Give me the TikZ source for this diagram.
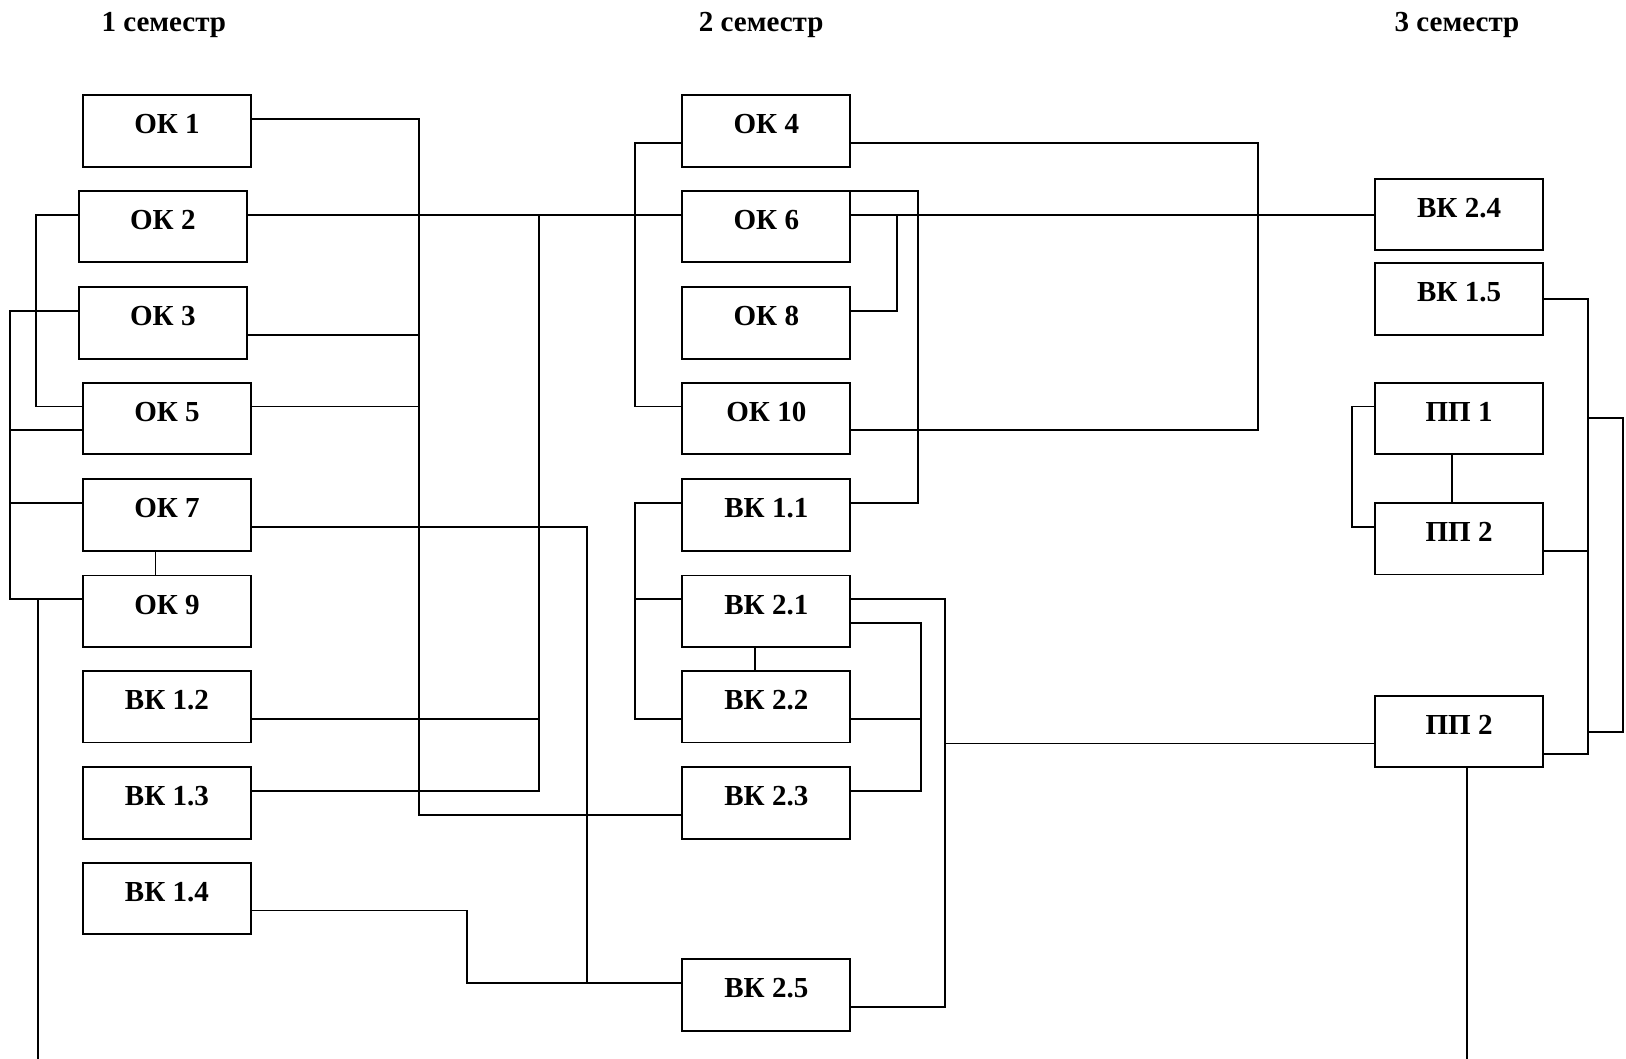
\documentclass[tikz,border=0pt]{standalone}
\usepackage{fontspec}
\setmainfont{Liberation Serif}
\usepackage{tikz}
\usetikzlibrary{positioning,calc}

\tikzset{
 box/.style={draw, anchor=north west, inner sep=0pt, outer sep=0pt, minimum width=81pt,
  text height=18.6pt, text depth=15.9pt, font=\fontsize{14}{16}\selectfont\bfseries},
 term/.style={anchor=base, font=\fontsize{14}{16}\selectfont\bfseries},
 upline/.style={yshift=5.75pt},
 lowline/.style={yshift=-5.75pt}
}

\begin{document}
\begin{tikzpicture}[x=0.5pt, y=-0.5pt, line width=0.9pt]
\useasboundingbox (0,0) rectangle (1568,1021);

% semesters
\node[term] (s1) at (158, 30.5) {1 семестр};
\node[term] (s2) at (734, 30.5) {2 семестр};
\node[term] (s3) at (1405, 30.5) {3 семестр};

% first semester
\foreach \n/\t/\x/\y in {ok1/ОК 1/80/92, ok2/ОК 2/76/184, ok3/ОК 3/76/277,
  ok5/ОК 5/80/369, ok7/ОК 7/80/462, ok9/ОК 9/80/555,
  vk12/ВК 1.2/80/647, vk13/ВК 1.3/80/740, vk14/ВК 1.4/80/832}
 \node[box] (\n) at (\x, \y) {\t};

% second semester
\foreach \n/\t/\y in {ok4/ОК 4/92, ok6/ОК 6/184, ok8/ОК 8/277, ok10/ОК 10/369,
  vk11/ВК 1.1/462, vk21/ВК 2.1/555, vk22/ВК 2.2/647, vk23/ВК 2.3/740, vk25/ВК 2.5/925}
 \node[box] (\n) at (658, \y) {\t};

% third semester
\foreach \n/\t/\y in {vk24/ВК 2.4/172.5, vk15/ВК 1.5/254, pp1/ПП 1/369,
  pp2/ПП 2/485, pp2b/ПП 2/671}
 \node[box] (\n) at (1326, \y) {\t};

\coordinate (b1) at (404, 786);
\coordinate (b2) at (520, 207);
\coordinate (b4) at (10, 300);
\coordinate (b7) at (566, 948);
\coordinate (e1) at (37, 1021);
\coordinate (e2) at (1415, 1021);

% left column
\draw ([upline]ok1.east) -| (b1) -- ([lowline]vk23.west);
\draw ([lowline]ok3.east) -| (b1);
\draw ([upline]ok5.east) -| (b1);
\draw ([upline]ok2.east) -- ([upline]ok6.west);
\draw ([lowline]vk12.east) -| (b2);
\draw ([upline]vk13.east) -| (b2);
\draw ([upline]ok2.west) -- ++(-41,0) |- ([upline]ok5.west);
\draw ([upline]ok3.west) -- (b4) |- ([upline]ok9.west);
\draw ([lowline]ok5.west) -| (b4);
\draw ([upline]ok7.west) -| (b4);
\draw (e1) |- ([upline]ok9.west);
\draw ([xshift=-5.5pt]ok7.south) -- ([xshift=-5.5pt]ok9.north);
\draw ([lowline]ok7.east) -| (b7) -- ([upline]vk25.west);
\draw ([lowline]vk14.east) -| (450, 948) -- (b7);

% middle column
\draw ([upline]ok6.east) -- (vk24.west);
\draw ([lowline]ok4.west) -- ++(-46,0) |- ([upline]ok10.west);
\draw ([lowline]ok4.east) -- ++(393,0) |- ([lowline]ok10.east);
\draw ([upline]ok8.east) -- ++(45,0) |- ([upline]ok6.east);
\draw ([upline]vk11.east) -- ++(65,0) |- (ok6.north east);
\draw ([upline]vk11.west) -- ++(-46,0) |- ([lowline]vk22.west);
\draw ([upline]vk21.west) -- ++(-46,0);
\draw ([xshift=-5.5pt]vk21.south) -- ([xshift=-5.5pt]vk22.north);
\draw ([upline]vk21.east) -- ++(91,0) |- ([lowline]vk25.east);
\draw ([lowline]pp2b.west) -- ++(-414,0);
\draw ([lowline]vk21.east) -- ++(68,0) |- ([upline]vk23.east);
\draw ([lowline]vk22.east) -- ++(68,0);

% right column
\draw (vk15.east) -- ++(43,0) |- ([yshift=-11pt]pp2b.east);
\draw ([lowline]pp2.east) -- ++(43,0);
\draw ([xshift=21.5pt]pp1.east) -- ++(34,0) |- ([xshift=21.5pt]pp2b.east);
\draw ([upline]pp1.west) -- ++(-22,0) |- ([upline]pp2.west);
\draw ([xshift=-3.5pt]pp1.south) -- ([xshift=-3.5pt]pp2.north);
\draw ([xshift=4pt]pp2b.south) -- (e2);
\end{tikzpicture}
\end{document}
